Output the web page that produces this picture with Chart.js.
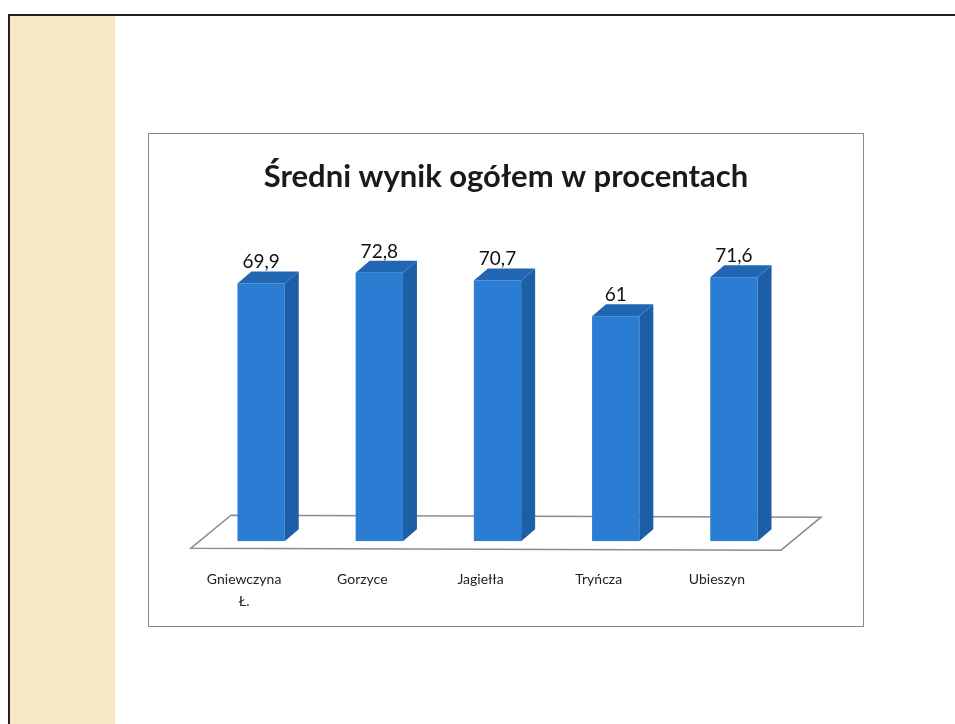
<!DOCTYPE html>
<html lang="pl">
<head>
<meta charset="utf-8">
<title>Średni wynik ogółem w procentach</title>
<script src="https://cdn.jsdelivr.net/npm/chart.js@4.4.1/dist/chart.umd.min.js"></script>
<style>
    html, body { margin: 0; padding: 0; background: #fff; }
    body { width: 955px; height: 724px; position: relative; overflow: hidden; }
    /* ramka slajdu i żółty pasek z lewej */
    .ramka { position: absolute; left: 8px; top: 14px; width: 960px; height: 720px;
             border-left: 2px solid #222; border-top: 2px solid #222; }
    .pasek { position: absolute; left: 10px; top: 16px; width: 105px; height: 720px; background: #f7e9c3; }
    .wykres { position: absolute; left: 148px; top: 133px; width: 716px; height: 494px;
              border: 1px solid #8a8a8a; box-sizing: border-box; background: #fff; }
    canvas { display: block; }
</style>
</head>
<body>
<div class="ramka"></div>
<div class="pasek"></div>
<div class="wykres"><canvas id="wynikChart" width="714" height="492"></canvas></div>

<script>
// dane wykresu
const szkoly = [['Gniewczyna', 'Ł.'], 'Gorzyce', 'Jagiełła', 'Tryńcza', 'Ubieszyn'];
const wyniki = [69.9, 72.8, 70.7, 61, 71.6];
const tytul = 'Średni wynik ogółem w procentach';

// kolory słupków 3D
const kolorPrzod = '#2b7cd3';
const kolorBok = '#1c5fa6';
const kolorGora = '#2166b3';
const glebX = 14;   // głębokość słupka w poziomie
const glebY = 12;   // głębokość słupka w pionie

// plugin rysujący podłogę, boki słupków i etykiety wartości
const efekt3d = {
    id: 'efekt3d',
    beforeDatasetsDraw(chart) {
        const ctx = chart.ctx;
        const area = chart.chartArea;
        const zero = chart.scales.y.getPixelForValue(0);
        const fl = area.left - 11, fr = area.right - 12, fy = zero + 7;
        ctx.save();
        ctx.beginPath();
        ctx.moveTo(fl, fy);
        ctx.lineTo(fl + 40, fy - 33);
        ctx.lineTo(fr + 40, fy - 31);
        ctx.lineTo(fr, fy + 2);
        ctx.closePath();
        ctx.fillStyle = '#ffffff';
        ctx.fill();
        ctx.strokeStyle = '#8c8c8c';
        ctx.lineWidth = 1.5;
        ctx.stroke();
        ctx.restore();
    },
    afterDatasetsDraw(chart) {
        const ctx = chart.ctx;
        const meta = chart.getDatasetMeta(0);
        ctx.save();
        meta.data.forEach((bar, i) => {
            const p = bar.getProps(['x', 'y', 'base', 'width'], true);
            const x0 = p.x - p.width / 2, x1 = p.x + p.width / 2;
            // bok
            ctx.beginPath();
            ctx.moveTo(x1, p.y);
            ctx.lineTo(x1 + glebX, p.y - glebY);
            ctx.lineTo(x1 + glebX, p.base - glebY);
            ctx.lineTo(x1, p.base);
            ctx.closePath();
            ctx.fillStyle = kolorBok;
            ctx.fill();
            // góra
            ctx.beginPath();
            ctx.moveTo(x0, p.y);
            ctx.lineTo(x0 + glebX, p.y - glebY);
            ctx.lineTo(x1 + glebX, p.y - glebY);
            ctx.lineTo(x1, p.y);
            ctx.closePath();
            ctx.fillStyle = kolorGora;
            ctx.fill();
            // etykieta wartości
            ctx.fillStyle = '#111';
            ctx.font = '19px Lato';
            ctx.textAlign = 'center';
            ctx.textBaseline = 'alphabetic';
            ctx.fillText(String(wyniki[i]).replace('.', ','), p.x, p.y - 15);
        });
        ctx.restore();
    }
};

new Chart(document.getElementById('wynikChart'), {
    type: 'bar',
    data: {
        labels: szkoly,
        datasets: [{
            data: wyniki,
            backgroundColor: kolorPrzod,
            borderWidth: 0,
            barPercentage: 0.4,
            categoryPercentage: 1
        }]
    },
    options: {
        responsive: false,
        animation: false,
        events: [],
        layout: { padding: { left: 53, right: 53, top: 0, bottom: -14 } },
        plugins: {
            legend: { display: false },
            tooltip: { enabled: false },
            title: {
                display: true,
                text: tytul,
                color: '#1a1a1a',
                font: { family: 'Lato', size: 31, weight: 'bold' },
                padding: { top: 24, bottom: 51 }
            }
        },
        scales: {
            x: {
                grid: { display: false, drawTicks: false },
                border: { display: false },
                ticks: {
                    color: '#222',
                    font: { family: 'Lato', size: 14, lineHeight: 1.6 },
                    padding: 27,
                    labelOffset: -17,
                    maxRotation: 0,
                    autoSkip: false
                }
            },
            y: {
                position: 'right',
                min: 0,
                max: 80,
                grid: { display: false },
                border: { display: false },
                ticks: { display: false },
                // pusty margines z prawej, żeby tytuł był na środku
                afterFit(scale) { scale.width = 17; }
            }
        }
    },
    plugins: [efekt3d]
});
</script>
</body>
</html>
